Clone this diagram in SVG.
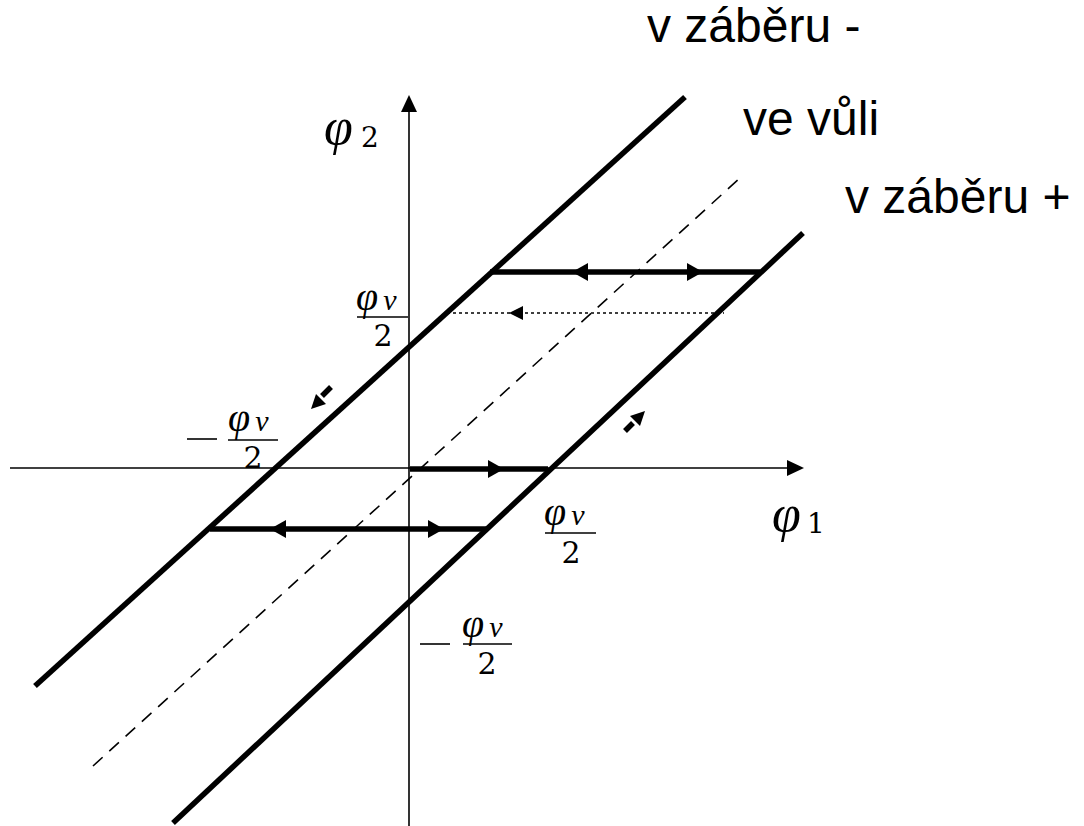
<svg xmlns="http://www.w3.org/2000/svg" width="1084" height="826" viewBox="0 0 1084 826">
<style>
.axis{stroke:#000;stroke-width:1.6;fill:none}
.thick{stroke:#000;stroke-width:5.5;fill:none;stroke-linecap:butt}
.dash{stroke:#000;stroke-width:1.6;fill:none;stroke-dasharray:13 9}
.dot{stroke:#000;stroke-width:1.6;fill:none;stroke-dasharray:3 3}
.head{fill:#000;stroke:none}
.lbl{font-family:"Liberation Sans",Arial,sans-serif;font-size:48px;fill:#000}
.m{font-family:"DejaVu Serif","Liberation Serif",serif;fill:#000}
.phi{font-family:"Liberation Serif","DejaVu Serif",serif;font-style:italic}
.it{font-family:"Liberation Serif",serif;font-style:italic}
</style>
<rect width="1084" height="826" fill="#fff"/>
<g id="connectors">
  <g id="axes">
    <line class="axis" x1="409" y1="826" x2="409" y2="108"/>
    <polygon class="head" points="409,95 401,112 417,112"/>
    <line class="axis" x1="10" y1="468" x2="792" y2="468"/>
    <polygon class="head" points="804,468 787,460 787,476"/>
  </g>
  <line id="line-minus" class="thick" x1="35" y1="686" x2="685" y2="97"/>
  <line id="line-plus" class="thick" x1="173" y1="823" x2="803" y2="233"/>
  <line id="line-mid" class="dash" x1="93" y1="766" x2="740" y2="178"/>
  <g id="arrow-top">
    <line class="thick" x1="490" y1="272" x2="760" y2="272"/>
    <polygon class="head" points="572,272 588,263 588,281"/>
    <polygon class="head" points="703,272 687,263 687,281"/>
  </g>
  <g id="arrow-dotted">
    <line class="dot" x1="447" y1="313" x2="724" y2="313"/>
    <polygon class="head" points="509,313 523,306 523,320"/>
  </g>
  <g id="arrow-axis">
    <line class="thick" x1="410" y1="469" x2="548" y2="469"/>
    <polygon class="head" points="504,469 488,460 488,478"/>
  </g>
  <g id="arrow-bottom">
    <line class="thick" x1="210" y1="529" x2="487" y2="529"/>
    <polygon class="head" points="270,529 286,520 286,538"/>
    <polygon class="head" points="444,529 428,520 428,538"/>
  </g>
  <g id="arrow-small-left">
    <line class="thick" x1="331" y1="387" x2="322" y2="396" stroke-width="6"/>
    <polygon class="head" points="311,409 326,404 316,394"/>
  </g>
  <g id="arrow-small-right">
    <line class="thick" x1="625" y1="431" x2="633" y2="423" stroke-width="6"/>
    <polygon class="head" points="645,411 630,416 640,426"/>
  </g>
</g>
<g id="label-phi2"><text class="phi" x="324" y="144" font-size="52">φ</text><text class="m" x="361" y="147" font-size="28">2</text></g>
<g id="label-phi1"><text class="phi" x="772" y="531" font-size="52">φ</text><text class="m" x="807" y="533" font-size="28">1</text></g>
<g id="label-pv2-top">
  <text x="356" y="310"><tspan class="phi" font-size="40">φ</tspan><tspan class="it" font-size="30" dx="5">v</tspan></text>
  <line class="axis" x1="357" y1="317" x2="408" y2="317"/>
  <text class="m" x="383" y="346" font-size="30" text-anchor="middle">2</text>
</g>
<g id="label-mpv2-left">
  <line class="axis" x1="187" y1="439" x2="217" y2="439"/>
  <text x="228" y="431"><tspan class="phi" font-size="40">φ</tspan><tspan class="it" font-size="30" dx="5">v</tspan></text>
  <line class="axis" x1="228" y1="440" x2="278" y2="440"/>
  <text class="m" x="253" y="468" font-size="30" text-anchor="middle">2</text>
</g>
<g id="label-pv2-right">
  <text x="544" y="525"><tspan class="phi" font-size="40">φ</tspan><tspan class="it" font-size="30" dx="5">v</tspan></text>
  <line class="axis" x1="545" y1="533" x2="596" y2="533"/>
  <text class="m" x="571" y="563" font-size="30" text-anchor="middle">2</text>
</g>
<g id="label-mpv2-bottom">
  <line class="axis" x1="420" y1="644" x2="450" y2="644"/>
  <text x="462" y="637"><tspan class="phi" font-size="40">φ</tspan><tspan class="it" font-size="30" dx="5">v</tspan></text>
  <line class="axis" x1="463" y1="644" x2="512" y2="644"/>
  <text class="m" x="487" y="674" font-size="30" text-anchor="middle">2</text>
</g>
<g id="label-zaberu-minus"><text class="lbl" x="647" y="42">v záběru -</text></g>
<g id="label-vuli"><text class="lbl" x="743" y="135">ve vůli</text></g>
<g id="label-zaberu-plus"><text class="lbl" x="845" y="213">v záběru +</text></g>
</svg>
